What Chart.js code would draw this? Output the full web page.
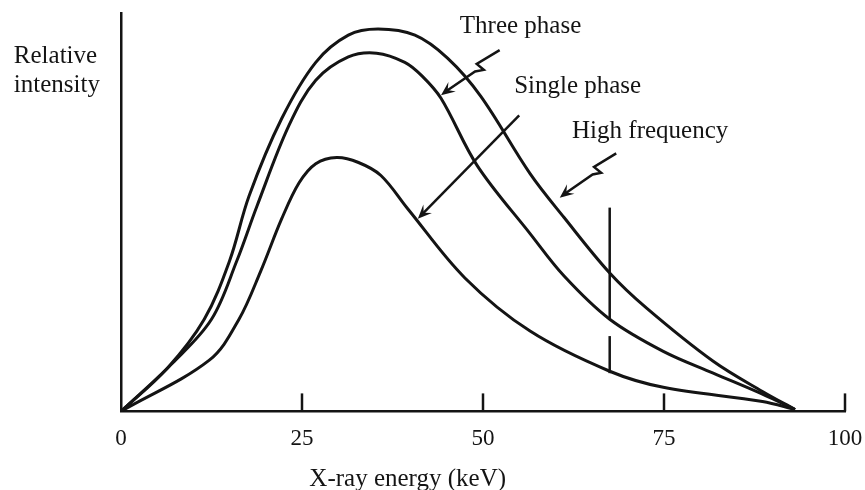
<!DOCTYPE html>
<html>
<head>
<meta charset="utf-8">
<script src="https://cdn.jsdelivr.net/npm/chart.js@4"></script>
<style>
  html, body { margin: 0; padding: 0; background: #fff; }
  #wrap { width: 865px; height: 490px; }
</style>
</head>
<body>
<div id="wrap"><canvas id="myChart" width="865" height="490"></canvas></div>
<script>
// x-ray spectra (energy in keV, intensity relative to the highest peak)
var highEnergy = [0, 6.4, 11.5, 15.0, 17.7, 22.2, 26.9, 31.4, 35.5, 40.6, 45.1, 49.7, 56.5, 61.2, 67.5, 72.6, 81.8, 88.6, 93.1];
var highFreq   = [0, 11.3, 24.1, 39.4, 56.4, 76.6, 91.3, 98.4, 100, 98.4, 92.4, 82.4, 62.2, 50.7, 36.2, 27.0, 13.1, 5.2, 0.5];

var threeEnergy = [0, 7.1, 12.5, 16.0, 18.8, 23.2, 26.9, 31.4, 35.3, 39.2, 41.6, 44.2, 49.2, 56.5, 61.2, 67.5, 74.9, 81.8, 88.6, 93.1];
var threePhase  = [0, 12.6, 24.1, 39.4, 53.8, 74.8, 86.6, 92.7, 93.7, 91.3, 87.7, 81.9, 64.3, 46.5, 35.4, 24.1, 15.7, 10.0, 4.5, 0.5];

var singleEnergy = [0, 12.2, 16.3, 19.3, 22.2, 24.6, 26.9, 29.8, 32.8, 35.9, 39.6, 47.5, 56.5, 67.5, 74.9, 88.6, 93.1];
var singlePhase  = [0, 13.4, 24.1, 36.7, 50.4, 59.8, 64.8, 66.4, 65.1, 61.7, 53.0, 34.9, 21.0, 10.5, 6.3, 2.6, 0.5];

var xTicks = [0, 25, 50, 75, 100];

// annotations (data units)
var labelNames = ['Three phase', 'Single phase', 'High frequency'];
var labelX = [46.8, 54.3, 62.3];
var labelY = [98.9, 83.2, 71.4];
// arrows: tail and head points, zigzag or straight
var arrowTail = [[52.3, 94.5], [55.0, 77.4], [68.4, 67.5]];
var arrowHead = [[44.2, 82.7], [41.0, 50.4], [60.6, 55.9]];
var arrowZig = [true, false, true];
// the vertical marker near 67.5 keV, drawn in two pieces
var markerX = 67.5;
var markerSegs = [[53.3, 24.1], [19.7, 10.0]];

var serif = '"Liberation Serif", "Times New Roman", serif';
var ink = '#141414';

function pts(xs, ys) {
    return xs.map(function (v, i) { return {x: v, y: ys[i]}; });
}

function lineSet(label, xs, ys) {
    return {
        label: label,
        data: pts(xs, ys),
        borderColor: ink,
        borderWidth: 3,
        pointRadius: 0,
        fill: false,
        tension: 0.35
    };
}

var annotate = {
    id: 'annotate',
    afterDraw: function (chart) {
        var ctx = chart.ctx;
        var x = chart.scales.x, y = chart.scales.y;
        var px = function (v) { return x.getPixelForValue(v); };
        var py = function (v) { return y.getPixelForValue(v); };
        ctx.save();
        ctx.strokeStyle = ink;
        ctx.fillStyle = ink;
        ctx.lineCap = 'butt';

        // inward tick marks
        ctx.lineWidth = 2.5;
        xTicks.slice(1).forEach(function (v) {
            ctx.beginPath();
            ctx.moveTo(px(v), py(0));
            ctx.lineTo(px(v), py(0) - 18);
            ctx.stroke();
        });

        // vertical marker
        markerSegs.forEach(function (s) {
            ctx.beginPath();
            ctx.moveTo(px(markerX), py(s[0]));
            ctx.lineTo(px(markerX), py(s[1]));
            ctx.stroke();
        });

        // arrows
        arrowTail.forEach(function (t, i) {
            var tx = px(t[0]), ty = py(t[1]);
            var hx = px(arrowHead[i][0]), hy = py(arrowHead[i][1]);
            var dx = hx - tx, dy = hy - ty;
            var len = Math.sqrt(dx * dx + dy * dy);
            var ux = dx / len, uy = dy / len;
            var nx = -uy, ny = ux;
            ctx.beginPath();
            ctx.moveTo(tx, ty);
            if (arrowZig[i]) {
                var a = len * 0.36, b = len * 0.44;
                ctx.lineTo(tx + ux * a + nx * 3, ty + uy * a + ny * 3);
                ctx.lineTo(tx + ux * (a - 2) - nx * 6, ty + uy * (a - 2) - ny * 6);
                ctx.lineTo(tx + ux * b - nx * 2, ty + uy * b - ny * 2);
            }
            ctx.lineTo(hx - ux * 6, hy - uy * 6);
            ctx.stroke();
            // barbed head
            var hl = 14, hw = 6;
            ctx.beginPath();
            ctx.moveTo(hx, hy);
            ctx.lineTo(hx - ux * hl + nx * hw, hy - uy * hl + ny * hw);
            ctx.lineTo(hx - ux * hl * 0.6, hy - uy * hl * 0.6);
            ctx.lineTo(hx - ux * hl - nx * hw, hy - uy * hl - ny * hw);
            ctx.closePath();
            ctx.fill();
        });

        // curve labels
        ctx.font = '25px ' + serif;
        ctx.textAlign = 'left';
        ctx.textBaseline = 'alphabetic';
        labelNames.forEach(function (s, i) {
            ctx.fillText(s, px(labelX[i]), py(labelY[i]));
        });

        // axis titles
        ctx.fillText('Relative', px(-14.8), py(91.1));
        ctx.fillText('intensity', px(-14.8), py(83.5));
        ctx.textAlign = 'center';
        ctx.fillText('X-ray energy (keV)', px(39.6), py(-19.4));
        ctx.restore();
    }
};

var ctx = document.getElementById('myChart').getContext('2d');
var myChart = new Chart(ctx, {
    type: 'line',
    data: {
        datasets: [
            lineSet('High frequency', highEnergy, highFreq),
            lineSet('Three phase', threeEnergy, threePhase),
            lineSet('Single phase', singleEnergy, singlePhase)
        ]
    },
    options: {
        responsive: false,
        animation: false,
        layout: { padding: { left: 113, right: 0, top: 13, bottom: 31 } },
        plugins: {
            legend: { display: false },
            tooltip: { enabled: false }
        },
        scales: {
            x: {
                type: 'linear',
                min: 0,
                max: 100,
                afterBuildTicks: function (axis) {
                    axis.ticks = xTicks.map(function (v) { return {value: v}; });
                },
                afterFit: function (axis) {
                    // keep the "100" label inside the canvas, axis ends close to the edge
                    axis.paddingRight = 20;
                },
                ticks: { color: ink, font: { family: serif, size: 23 }, padding: 6 },
                grid: { display: false },
                border: { display: true, color: ink, width: 2.5 }
            },
            y: {
                type: 'linear',
                min: 0,
                max: 104.2,
                ticks: { display: false },
                grid: { display: false },
                border: { display: true, color: ink, width: 2.5 }
            }
        }
    },
    plugins: [annotate]
});
</script>
</body>
</html>
